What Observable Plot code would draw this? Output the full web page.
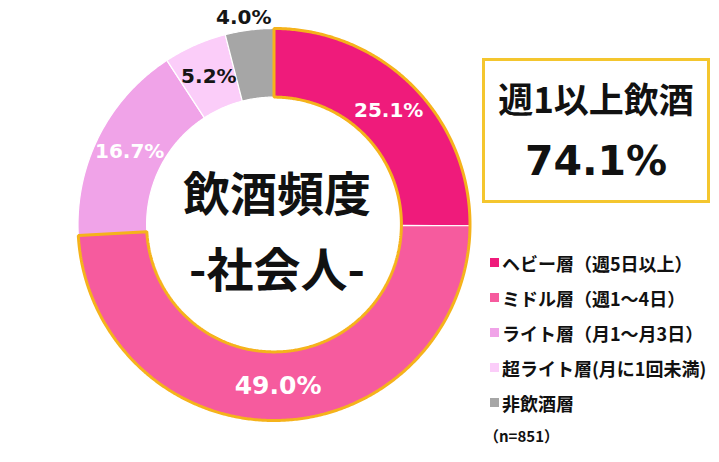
<!DOCTYPE html>
<html><head><meta charset="utf-8">
<script src="https://cdn.jsdelivr.net/npm/d3@7"></script>
<script src="https://cdn.jsdelivr.net/npm/@observablehq/plot@0.6"></script>
<style>
body{margin:0;background:#fff;}
#wrap{position:relative;width:719px;height:462px;overflow:hidden;font-family:"Noto Sans CJK JP","Noto Sans",sans-serif;}
#chart{position:absolute;left:0;top:0;}
#box{position:absolute;left:482px;top:58px;width:222px;height:139px;border:3px solid #F4C62E;box-sizing:content-box;}
#box .t{position:absolute;left:0;right:0;top:14px;text-align:center;font-weight:700;font-size:35px;line-height:46px;color:#111;}
#box .v{position:absolute;left:0;right:0;top:74px;text-align:center;font-weight:700;font-size:41px;line-height:52px;color:#111;font-family:"DejaVu Sans",sans-serif;}
#legend{position:absolute;left:490px;top:245px;}
.lg-swatch{height:35px !important;padding:0 !important;margin:0 !important;}
.lg-swatch svg{margin-right:3px !important;}
.lg-swatch-label{overflow:visible !important;}
#note{position:absolute;left:484px;top:426px;font-size:15px;font-weight:700;color:#111;line-height:20px;}
</style>
</head><body>
<div id="wrap"><div id="chart"></div><div id="box"></div><div id="legend"></div><div id="note"></div></div>
<script>
const categories = ["ヘビー層（週5日以上）","ミドル層（週1～4日）","ライト層（月1～月3日）","超ライト層(月に1回未満)","非飲酒層"];
const values = [25.1, 49.0, 16.7, 5.2, 4.0];
const labels = ["25.1%","49.0%","16.7%","5.2%","4.0%"];
const colors = ["#EF1B7B","#F65B9E","#F0A3E8","#FBCDF9","#A6A6A6"];
const weekly = [true, true, false, false, false];
const boxTitle = "週1以上飲酒";
const boxValue = "74.1%";
const centerTitle = ["飲酒頻度", "-社会人-"];
const sampleNote = "（n=851）";

const R1 = 1, R0 = 0.65;
const arcs = d3.pie().sort(null).value(d => d)(values);

function ring(a0, a1, r0, r1) {
  const n = Math.max(2, Math.ceil((a1 - a0) / (Math.PI / 360)));
  const pts = [];
  for (let i = 0; i <= n; i++) { const a = a0 + (a1 - a0) * i / n; pts.push([r1 * Math.sin(a), r1 * Math.cos(a)]); }
  for (let i = n; i >= 0; i--) { const a = a0 + (a1 - a0) * i / n; pts.push([r0 * Math.sin(a), r0 * Math.cos(a)]); }
  pts.push(pts[0]);
  return {type: "Polygon", coordinates: [pts]};
}

const slices = arcs.map((a, i) => ({cat: categories[i], geometry: ring(a.startAngle, a.endAngle, R0, R1)}));
const wIdx = weekly.map((w, i) => w ? i : -1).filter(i => i >= 0);
const union = [{geometry: ring(arcs[wIdx[0]].startAngle, arcs[wIdx[wIdx.length - 1]].endAngle, R0, R1)}];

const labelData = arcs.map((a, i) => {
  const outside = values[i] < 4.5;
  const mid = (a.startAngle + a.endAngle) / 2 - (outside ? 0.02 : 0);
  const r = outside ? 1.065 : (R0 + R1) / 2;
  const dark = outside || d3.lab(colors[i]).l > 82;
  return {x: r * Math.sin(mid), y: r * Math.cos(mid), label: labels[i], dark, size: values[i] > 40 ? 25 : 20};
});

const outline = {type: "Polygon", coordinates: [d3.range(0, 361, 2).map(t => [Math.sin(t * Math.PI / 180), Math.cos(t * Math.PI / 180)])]};

const plot = Plot.plot({
  width: 719, height: 462,
  marginLeft: 77, marginRight: 249, marginTop: 28, marginBottom: 42,
  projection: {type: "reflect-y", domain: outline, clip: false},
  color: {domain: categories, range: colors},
  style: {background: "white"},
  marks: [
    Plot.geo(slices, {geometry: d => d.geometry, fill: d => d.cat, stroke: "white", strokeWidth: 1.2}),
    Plot.geo(union, {geometry: d => d.geometry, fill: "none", stroke: "#F5B31B", strokeWidth: 3, strokeLinejoin: "miter"}),
    Plot.text(labelData.filter(d => !d.dark), {x: "x", y: "y", text: "label", fontSize: "size", fill: "white", fontWeight: "bold", fontFamily: "DejaVu Sans", clip: false}),
    Plot.text(labelData.filter(d => d.dark), {x: "x", y: "y", text: "label", fontSize: "size", fill: "#151515", fontWeight: "bold", fontFamily: "DejaVu Sans", clip: false}),
    Plot.text([centerTitle.join("\n")], {frameAnchor: "middle", text: d => d, dx: 3, dy: 0, fontSize: 47, lineHeight: 1.62, fontWeight: "bold", fill: "#111", fontFamily: "Noto Sans CJK JP"})
  ]
});
document.getElementById("chart").appendChild(plot);

const box = document.getElementById("box");
box.innerHTML = `<div class="t"></div><div class="v"></div>`;
box.querySelector(".t").textContent = boxTitle;
box.querySelector(".v").textContent = boxValue;

const lg = plot.legend("color", {legend: "swatches", columns: 1, swatchSize: 9, className: "lg",
  style: {fontSize: "18px", fontWeight: "bold", fontFamily: "Noto Sans CJK JP", color: "#111"}});
document.getElementById("legend").appendChild(lg);
document.getElementById("note").textContent = sampleNote;
</script>
</body></html>
